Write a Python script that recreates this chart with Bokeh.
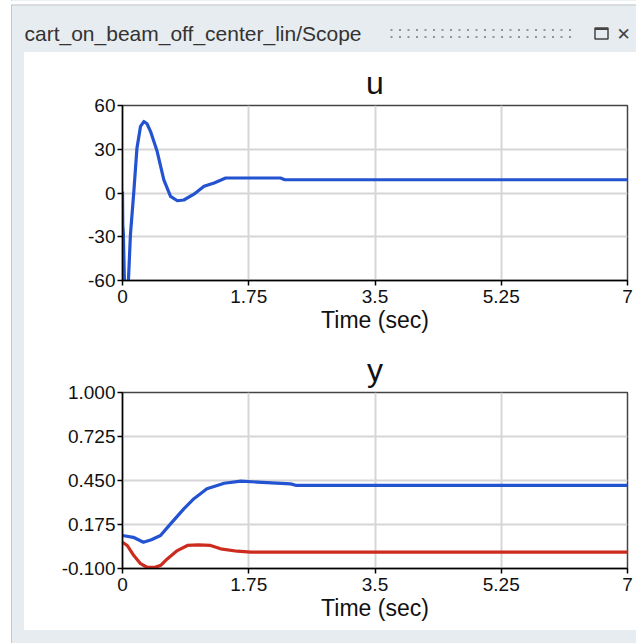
import numpy as np
from bokeh.plotting import figure
from bokeh.layouts import column, row
from bokeh.models import Spacer, FixedTicker, Range1d
from bokeh.core.properties import value
from bokeh.embed import file_html
from bokeh.resources import INLINE

WINDOW_TITLE = "cart_on_beam_off_center_lin/Scope"
X_LABEL = "Time (sec)"
X_TICKS = [0, 1.75, 3.5, 5.25, 7]
X_TICK_LABELS = ["0", "1.75", "3.5", "5.25", "7"]

U_TICKS = [-60, -30, 0, 30, 60]
U_TICK_LABELS = ["-60", "-30", "0", "30", "60"]
Y_TICKS = [-0.1, 0.175, 0.45, 0.725, 1.0]
Y_TICK_LABELS = ["-0.100", "0.175", "0.450", "0.725", "1.000"]

# u signal
u_t = [0, 0.004, 0.012, 0.03, 0.075, 0.11, 0.157, 0.2, 0.25, 0.296, 0.34, 0.388,
       0.48, 0.573, 0.666, 0.76, 0.85, 0.99, 1.13, 1.27, 1.43, 2.19, 2.25, 7]
u_v = [1, -22, -28, -68, -68, -28.6, 0.9, 30.6, 45.7, 49, 47.5, 42.3,
       28.6, 9, -2.3, -5.3, -4.8, -0.8, 4.6, 6.9, 10.3, 10.3, 9.1, 9.1]

# y signals
yb_t = [0, 0.15, 0.29, 0.4, 0.527, 0.666, 0.85, 0.99, 1.17, 1.41, 1.64, 1.87, 2.33, 2.4, 7]
yb_v = [0.106, 0.095, 0.064, 0.08, 0.106, 0.179, 0.273, 0.336, 0.398, 0.433, 0.446, 0.44, 0.429, 0.42, 0.42]
yr_t = [0, 0.065, 0.157, 0.25, 0.34, 0.45, 0.53, 0.62, 0.76, 0.9, 1.05, 1.22, 1.36, 1.59, 1.78, 7]
yr_v = [0.064, 0.044, -0.019, -0.07, -0.092, -0.093, -0.08, -0.04, 0.012, 0.044, 0.048, 0.044, 0.023, 0.008, 0.002, 0.002]

BLUE = "#2353d0"
RED = "#cc2b1d"
FONT = "Liberation Sans"


def scope(title, yr, yticks, ylabels, height, top, bottom):
    p = figure(width=612, height=height, x_range=Range1d(0, 7), y_range=Range1d(*yr),
               output_backend="svg", toolbar_location=None, title=title)
    p.min_border_left = 98
    p.min_border_right = 9
    p.min_border_top = top
    p.min_border_bottom = bottom
    p.background_fill_color = "white"
    p.border_fill_color = "white"
    p.outline_line_color = "#444444"
    p.outline_line_width = 1.5
    p.title.align = "center"
    p.title.text_font = FONT
    p.title.text_font_size = "32px"
    p.title.text_font_style = "normal"
    p.title.text_color = "#111111"
    p.title.standoff = 9
    p.xaxis.ticker = FixedTicker(ticks=X_TICKS)
    p.xaxis.major_label_overrides = dict(zip(X_TICKS, X_TICK_LABELS))
    p.yaxis.ticker = FixedTicker(ticks=yticks)
    p.yaxis.major_label_overrides = dict(zip(yticks, ylabels))
    p.xaxis.axis_label = X_LABEL
    p.xaxis.axis_label_text_font = FONT
    p.xaxis.axis_label_text_font_size = "23px"
    p.xaxis.axis_label_text_font_style = "normal"
    p.xaxis.axis_label_text_color = "#111111"
    p.xaxis.axis_label_standoff = 1
    for ax in (p.xaxis, p.yaxis):
        ax.axis_line_color = "black"
        ax.axis_line_width = 1.5
        ax.major_tick_line_color = "black"
        ax.major_tick_line_width = 1.5
        ax.major_tick_in = 0
        ax.major_tick_out = 5
        ax.minor_tick_line_color = None
        ax.major_label_text_font = FONT
        ax.major_label_text_font_size = "19px"
        ax.major_label_text_color = "#111111"
    p.xaxis.major_label_standoff = 4
    p.yaxis.major_label_standoff = 2
    p.grid.grid_line_color = "#d6d6d6"
    p.grid.grid_line_width = 2
    return p


p1 = scope("u", (-60, 60), U_TICKS, U_TICK_LABELS, 288, 53, 60)
p1.line(u_t, u_v, color=BLUE, line_width=3.2, line_join="round")

p2 = scope("y", (-0.1, 1.0), Y_TICKS, Y_TICK_LABELS, 290, 52, 62)
p2.line(yb_t, yb_v, color=BLUE, line_width=3.2, line_join="round")
p2.line(yr_t, yr_v, color=RED, line_width=3.2, line_join="round")

# header (window title bar); coordinates in page pixels, y measured up from y=52
h = figure(width=636, height=52, x_range=Range1d(0, 636), y_range=Range1d(0, 52),
           output_backend="svg", toolbar_location=None,
           x_axis_location=None, y_axis_location=None)
h.min_border = 0
h.min_border_left = h.min_border_right = h.min_border_top = h.min_border_bottom = 0
h.grid.visible = False
h.outline_line_color = None
h.background_fill_alpha = 0
h.border_fill_alpha = 0
h.quad(left=[0], right=[636], bottom=[48], top=[52], fill_color="white", line_color=None)
h.line(x=[11, 636], y=[47.5, 47.5], line_color="#c3c8cb", line_width=1)
h.text(x=[24], y=[19], text=[WINDOW_TITLE], text_font=value(FONT), text_font_size="21px",
       text_baseline="middle", text_align="left", text_color="#333333")
gx = np.arange(391, 578, 8.5)
h.scatter(np.concatenate([gx, gx]), np.concatenate([np.full(len(gx), 22.5), np.full(len(gx), 15.5)]),
          marker="square", size=2, color="#8f969a", line_color=None)
h.rect(x=[601], y=[19], width=13, height=11, fill_color=None, line_color="#444444", line_width=1.5)
h.rect(x=[601], y=[23.5], width=13, height=2, fill_color="#444444", line_color=None)
h.text(x=[623], y=[19], text=["\u2715"], text_font=value("DejaVu Sans"), text_font_size="17px",
       text_baseline="middle", text_align="center", text_color="#444444")

body = column(p1, p2, spacing=0, styles={"background-color": "white"})
mid = row(Spacer(width=24, height=578), body, spacing=0)
root = column(h, mid, Spacer(width=636, height=13), spacing=0,
              styles={"background": "linear-gradient(to right, #ffffff 0px, #ffffff 11px, #c3c8cb 11px, #c3c8cb 12px, #e6ecef 12px)"})

open("out.html", "w").write(file_html(root, INLINE))
